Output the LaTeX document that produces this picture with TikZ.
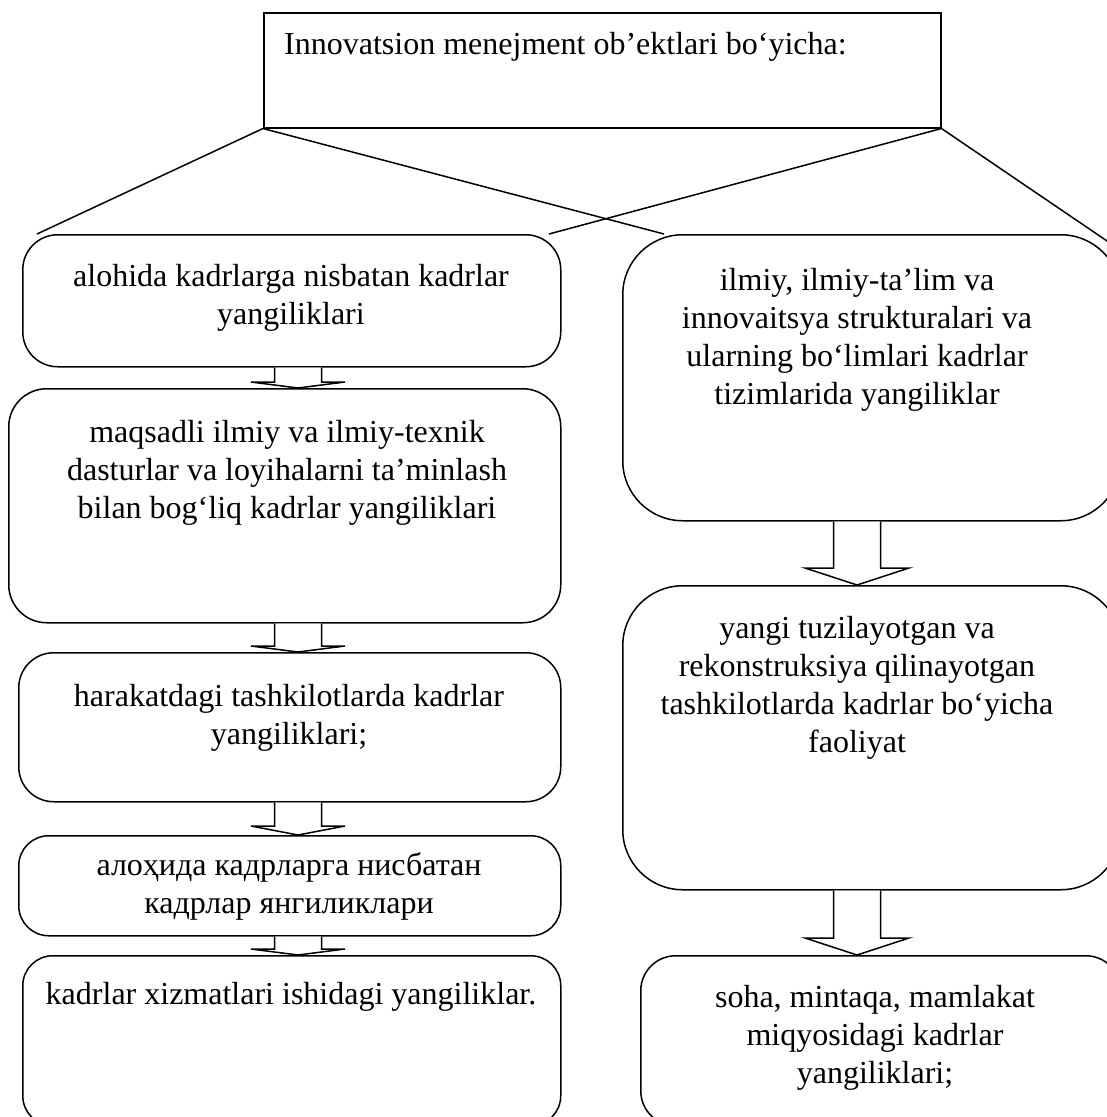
\documentclass[tikz,border=0pt]{standalone}
\usepackage{fontspec}
\setmainfont{Liberation Serif}
\usetikzlibrary{calc}
\begin{document}
\begin{tikzpicture}[x=1pt,y=-1pt,
  frame/.style={draw,line width=1.5pt,inner sep=0pt,anchor=north west},
  txt/.style={inner sep=0pt,anchor=north,align=center,font=\fontsize{32}{38}\selectfont},
  link/.style={line width=1.5pt},
  blockarr/.style={draw,fill=white,line width=1.5pt,line join=miter}]
\useasboundingbox (0,0) rectangle (1107,1117);

% heading box
\node[frame,minimum width=677pt,minimum height=115pt] (top) at (263,12) {};
\node[inner sep=0pt,anchor=base west,font=\fontsize{32}{38}\selectfont] (toptxt) at (284,54)
  {Innovatsion menejment ob’ektlari bo‘yicha:};

% left column
\node[frame,rounded corners=35pt,minimum width=538pt,minimum height=132pt] (b1) at (22,234) {};
\node[frame,rounded corners=38pt,minimum width=552pt,minimum height=234pt] (b2) at (8,388) {};
\node[frame,rounded corners=35pt,minimum width=542pt,minimum height=149pt] (b3) at (18,652) {};
\node[frame,rounded corners=30pt,minimum width=542pt,minimum height=100pt] (b4) at (18,835) {};
\node[frame,rounded corners=30pt,minimum width=538pt,minimum height=170pt] (b5) at (22,955) {};

% right column
\node[frame,rounded corners=60pt,minimum width=498pt,minimum height=286pt] (r1) at (622,234) {};
\node[frame,rounded corners=60pt,minimum width=498pt,minimum height=304pt] (r2) at (622,585) {};
\node[frame,rounded corners=35pt,minimum width=480pt,minimum height=170pt] (r3) at (640,955) {};

% texts
\node[txt] (t1) at (291,264) {alohida kadrlarga nisbatan kadrlar\\yangiliklari};
\node[txt] (t2) at (287,420) {maqsadli ilmiy va ilmiy-texnik\\dasturlar va loyihalarni ta’minlash\\bilan bog‘liq kadrlar yangiliklari};
\node[txt] (t3) at (289,684) {harakatdagi tashkilotlarda kadrlar\\yangiliklari;};
\node[txt] (t4) at (289,852) {алоҳида кадрларга нисбатан\\кадрлар янгиликлари};
\node[txt] (t5) at (291,982) {kadrlar xizmatlari ishidagi yangiliklar.};
\node[txt] (t6) at (857,268) {ilmiy, ilmiy-ta’lim va\\innovaitsya strukturalari va\\ularning bo‘limlari kadrlar\\tizimlarida yangiliklar};
\node[txt] (t7) at (857,616) {yangi tuzilayotgan va\\rekonstruksiya qilinayotgan\\tashkilotlarda kadrlar bo‘yicha\\faoliyat};
\node[txt] (t8) at (875,985) {soha, mintaqa, mamlakat\\miqyosidagi kadrlar\\yangiliklari;};

% connectors from the heading box
\coordinate (e1) at (37,234);
\coordinate (e2) at (664,234);
\coordinate (e3) at (549,234);
\coordinate (e4) at (1110,243);
\draw[link] (top.south west) -- (e1);
\draw[link] (top.south west) -- (e2);
\draw[link] (top.south east) -- (e3);
\draw[link] (top.south east) -- (e4);

% block arrows between boxes
\newcommand\blockarrow[6]{% from, to, axis x, shaft half, head half, head length
  \coordinate (ax) at (#3,0);
  \coordinate (s) at (ax |- #1.south);
  \coordinate (e) at (ax |- #2.north);
  \draw[blockarr] ($(s)+(-#4,0)$) -- ($(e)+(-#4,-#6)$) -- ($(e)+(-#5,-#6)$) -- (e)
    -- ($(e)+(#5,-#6)$) -- ($(e)+(#4,-#6)$) -- ($(s)+(#4,0)$);
}
\blockarrow{b1}{b2}{298}{23.5}{47}{6}
\blockarrow{b2}{b3}{298}{23.5}{47}{6}
\blockarrow{b3}{b4}{298}{23.5}{47}{9}
\blockarrow{b4}{b5}{298}{23.5}{47}{6}
\blockarrow{r1}{r2}{857}{23.5}{52}{17}
\blockarrow{r2}{r3}{857}{23.5}{52}{17}
\end{tikzpicture}
\end{document}
